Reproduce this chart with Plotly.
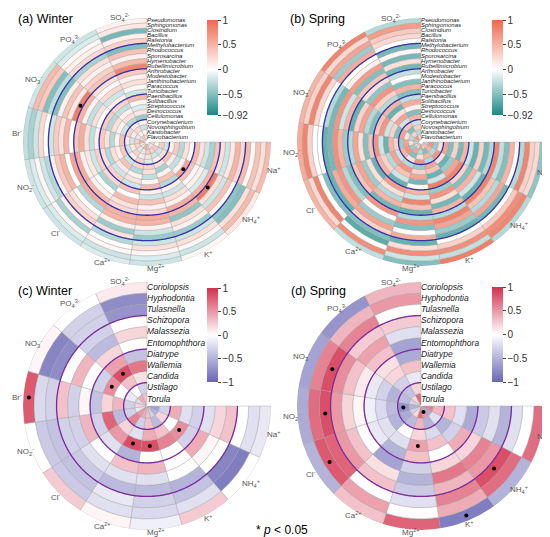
import numpy as np
import plotly.graph_objects as go

# ion sectors, clockwise from the east
ions_11 = ['Na<sup>+</sup>', 'NH<sub>4</sub><sup>+</sup>', 'K<sup>+</sup>', 'Mg<sup>2+</sup>',
           'Ca<sup>2+</sup>', 'Cl<sup>-</sup>', 'NO<sub>2</sub><sup>-</sup>', 'Br<sup>-</sup>',
           'NO<sub>3</sub><sup>-</sup>', 'PO<sub>4</sub><sup>3-</sup>', 'SO<sub>4</sub><sup>2-</sup>']
ions_10 = [s for s in ions_11 if not s.startswith('Br')]

# genera, outer ring -> inner ring
bacteria = ['Pseudomonas', 'Sphingomonas', 'Clostridium', 'Bacillus', 'Ralstonia',
            'Methylobacterium', 'Rhodococcus', 'Sporosarcina', 'Hymenobacter',
            'Rubellimicrobium', 'Arthrobacter', 'Modestobacter', 'Janthinobacterium',
            'Paracoccus', 'Turicibacter', 'Paenibacillus', 'Solibacillus', 'Streptococcus',
            'Deinococcus', 'Cellulomonas', 'Corynebacterium', 'Novosphingobium',
            'Kaistobacter', 'Flavobacterium']
fungi = ['Coriolopsis', 'Hyphodontia', 'Tulasnella', 'Schizopora', 'Malassezia',
         'Entomophthora', 'Diatrype', 'Wallemia', 'Candida', 'Ustilago', 'Torula']

# correlation coefficients: one row per ion, one value per genus
winter_bac = [
    [0.45, 0.2, 0.4, 0.05, 0.45, 0.25, 0.5, 0.15, -0.2, 0.2, 0.4, -0.35, -0.2, 0.2, 0.45, 0.05, 0.2, -0.3, 0.35, 0.1, -0.2, 0.35, 0.1, 0.25],
    [0.15, 0.45, 0.2, -0.5, -0.45, 0.05, 0.4, -0.2, 0.2, 0.85, 0.5, -0.15, 0.1, 0.05, 0.4, 0.6, 0.1, -0.25, 0.15, 0.4, 0.2, -0.2, 0.35, 0.1],
    [0.05, -0.2, 0.05, 0.2, -0.2, -0.4, 0.1, 0.2, -0.45, 0.5, 0.55, 0.1, 0.2, -0.2, 0.1, -0.3, 0.4, 0.1, -0.35, 0.2, 0.1, -0.2, 0.3, 0.15],
    [-0.2, -0.15, 0.05, 0.2, -0.2, -0.4, -0.2, 0.1, 0.5, 0.55, 0.25, 0.1, 0.4, -0.2, 0.1, 0.45, 0.05, -0.25, 0.2, 0.3, -0.15, 0.2, 0.35, 0.4],
    [-0.15, -0.2, 0.05, 0.0, -0.3, 0.2, -0.4, 0.1, 0.5, 0.5, 0.25, 0.2, 0.45, 0.0, 0.4, -0.2, 0.2, 0.1, -0.3, 0.25, 0.3, -0.1, 0.2, 0.5],
    [-0.2, -0.15, 0.05, -0.35, 0.1, 0.3, 0.2, 0.0, -0.3, 0.55, 0.45, 0.1, 0.0, -0.35, 0.25, 0.3, -0.2, 0.15, 0.4, -0.2, 0.1, 0.3, -0.15, 0.2],
    [-0.2, -0.15, 0.05, -0.2, -0.3, 0.1, 0.35, 0.5, 0.0, 0.6, 0.55, 0.1, 0.15, -0.2, 0.3, 0.2, -0.3, 0.2, 0.1, 0.35, -0.2, 0.15, 0.3, -0.1],
    [-0.25, -0.35, -0.2, 0.25, 0.0, -0.2, 0.35, 0.2, 0.5, 0.0, 0.4, 0.55, 0.2, -0.25, 0.1, 0.35, 0.2, -0.3, 0.1, 0.4, 0.15, -0.2, 0.3, 0.5],
    [-0.2, 0.45, 0.35, -0.5, -0.25, -0.5, 0.1, 0.4, 0.15, 0.85, 0.5, 0.1, -0.25, 0.2, 0.0, 0.35, -0.3, 0.2, 0.1, -0.2, 0.3, 0.15, -0.15, 0.2],
    [-0.2, -0.15, 0.05, 0.1, 0.25, -0.35, 0.2, 0.1, 0.3, 0.4, 0.2, 0.05, 0.25, -0.2, 0.1, 0.3, -0.25, 0.1, 0.2, -0.3, 0.15, 0.25, 0.1, 0.35],
    [0.1, 0.15, -0.55, 0.1, 0.3, -0.5, 0.4, 0.1, 0.45, 0.8, 0.35, 0.1, 0.2, 0.05, -0.2, 0.45, 0.05, -0.15, 0.15, -0.4, 0.1, -0.2, 0.05, 0.2],
]
spring_bac = [
    [-0.45, 0.25, 0.3, 0.8, -0.3, 0.05, 0.5, -0.5, -0.25, 0.8, -0.3, -0.55, 0.3, -0.6, -0.2, 0.5, -0.55, 0.3, -0.5, 0.6, 0.2, -0.4, 0.7, -0.3],
    [-0.3, 0.8, 0.75, 0.35, 0.0, -0.55, 0.6, -0.3, 0.4, 0.8, -0.6, -0.2, 0.5, -0.5, 0.3, 0.8, 0.6, -0.4, -0.6, 0.2, 0.7, -0.3, 0.5, 0.4],
    [0.85, -0.25, 0.75, 0.3, 0.0, -0.6, -0.4, 0.6, 0.8, -0.3, 0.5, -0.55, 0.2, 0.7, -0.4, 0.85, -0.2, -0.6, 0.4, 0.6, -0.3, 0.5, -0.5, 0.3],
    [-0.5, -0.2, 0.75, 0.2, -0.6, 0.55, 0.0, -0.5, 0.7, -0.3, -0.6, 0.4, 0.8, -0.2, 0.5, 0.0, -0.55, 0.6, 0.3, -0.4, 0.7, 0.2, -0.3, 0.6],
    [-0.25, 0.75, 0.0, -0.65, -0.5, 0.3, 0.6, -0.4, 0.0, 0.7, -0.55, 0.5, -0.3, 0.2, 0.65, -0.6, -0.2, 0.4, 0.7, -0.3, 0.2, -0.5, 0.6, -0.2],
    [0.5, 0.25, 0.8, 0.0, -0.5, -0.6, 0.55, 0.7, -0.3, -0.5, 0.4, 0.6, -0.4, 0.2, -0.6, 0.5, 0.3, -0.3, 0.6, -0.2, 0.5, 0.7, -0.4, 0.3],
    [0.55, 0.8, 0.3, 0.0, 0.0, -0.6, -0.55, 0.75, 0.5, -0.4, -0.3, 0.6, 0.2, -0.5, 0.4, 0.7, -0.2, -0.6, 0.5, 0.3, -0.4, 0.6, 0.2, -0.3],
    [0.5, 0.3, 0.8, 0.25, 0.0, -0.3, -0.55, 0.7, -0.2, 0.5, -0.6, 0.3, 0.6, -0.3, -0.5, 0.4, 0.7, -0.2, 0.3, -0.5, 0.6, 0.2, -0.3, 0.5],
    [0.8, 0.25, 0.6, -0.4, 0.55, 0.0, 0.1, 0.65, -0.5, 0.4, 0.2, -0.45, 0.7, 0.3, -0.3, 0.5, -0.6, 0.2, 0.6, -0.2, 0.4, -0.5, 0.3, 0.7],
    [-0.3, 0.65, 0.35, 0.25, 0.0, -0.55, 0.05, -0.55, 0.2, -0.55, -0.25, 0.0, -0.5, 0.5, -0.5, -0.25, 0.55, 0.1, -0.5, 0.5, -0.2, 0.3, -0.3, 0.2],
]
winter_fun = [
    [-0.15, -0.2, 0.0, 0.3, 0.2, -0.2, -0.3, -0.2, 0.4, -0.3, -0.6],
    [0.0, -0.85, -0.8, 0.0, 0.05, 0.4, -0.3, 0.55, 0.0, 0.2, -0.5],
    [0.25, -0.2, -0.4, -0.5, 0.0, 0.0, 0.0, 0.6, 0.3, -0.45, -0.3],
    [-0.1, -0.25, -0.3, -0.45, -0.2, 0.35, 0.0, 0.85, 0.4, 0.3, 0.3],
    [0.05, -0.2, -0.15, -0.45, -0.2, 0.3, -0.5, 0.85, -0.2, -0.3, 0.4],
    [0.25, -0.35, -0.4, -0.35, -0.2, 0.0, -0.2, 0.5, 0.2, 0.6, 0.5],
    [0.0, -0.35, -0.4, -0.3, -0.3, 0.35, -0.3, 0.75, -0.45, -0.3, -0.15],
    [0.8, -0.25, -0.3, 0.3, -0.3, 0.05, -0.4, 0.2, 0.35, -0.3, 0.2],
    [0.05, -0.8, -0.75, 0.0, 0.35, 0.0, -0.3, 0.55, 0.0, -0.15, -0.25],
    [0.0, -0.3, -0.3, -0.3, -0.45, 0.2, 0.45, 0.85, 0.3, 0.0, 0.4],
    [0.1, -0.75, -0.7, 0.0, 0.2, 0.0, -0.4, 0.65, 0.15, -0.3, 0.3],
]
spring_fun = [
    [0.7, 0.0, -0.2, -0.5, -0.2, -0.35, -0.55, -0.2, 0.3, 0.35, 0.6],
    [-0.5, 0.7, 0.85, 0.5, 0.6, 0.2, 0.4, -0.3, -0.5, -0.2, -0.55],
    [-0.85, 0.4, 0.6, 0.35, 0.65, 0.2, 0.0, 0.3, -0.25, -0.5, 0.5],
    [0.75, 0.0, -0.2, -0.35, -0.5, -0.3, 0.3, 0.45, 0.2, 0.35, 0.7],
    [0.3, 0.45, 0.0, 0.3, 0.15, -0.6, -0.5, -0.2, 0.0, -0.45, 0.2],
    [-0.5, 0.8, 0.75, 0.5, 0.3, 0.0, -0.15, -0.2, -0.5, -0.55, -0.3],
    [-0.55, 0.7, 0.85, 0.5, 0.2, 0.05, -0.1, -0.25, -0.45, -0.7, -0.5],
    [-0.6, 0.6, 0.85, 0.55, 0.3, 0.1, -0.15, -0.3, -0.5, -0.45, -0.3],
    [-0.7, 0.35, 0.6, 0.25, 0.45, 0.3, 0.15, 0.2, -0.3, -0.4, 0.2],
    [0.35, 0.5, 0.0, 0.25, -0.2, -0.6, -0.55, 0.3, -0.15, 0.2, 0.7],
]

# significant cells (p < 0.05): (ion index, genus index)
sig_winter_bac = [(8, 9), (1, 9), (1, 15)]
sig_spring_bac = []
sig_winter_fun = [(7, 0), (8, 7), (9, 7), (4, 7), (3, 7), (1, 7)]
sig_spring_fun = [(7, 2), (6, 2), (5, 1), (6, 9), (2, 10), (3, 7), (1, 2), (2, 0)]

W, H = 550, 537
R = 124          # outer radius of the rings, px


def px(x):
    return x / W


def py(y):
    return 1 - y / H


bac_scale = [[0, '#1a8988'], [0.92 / 1.92, '#ffffff'], [1, '#ee684c']]
fun_scale = [[0, '#6966b5'], [0.5, '#ffffff'], [1, '#d42f4c']]

fig = go.Figure()


def add_panel(k, vals, ions, genera, sig, hole, groups, line_col, label_size, center):
    polar = 'polar' if k == 1 else 'polar%d' % k
    cax = 'coloraxis' if k == 1 else 'coloraxis%d' % k
    n_ion, n_gen = len(ions), len(genera)
    w = (R - hole) / n_gen
    sw = 270 / n_ion
    theta, base, color = [], [], []
    for i, row in enumerate(vals):
        for j, v in enumerate(row):
            theta.append((i + 0.5) * sw)
            base.append(R - (j + 1) * w)
            color.append(v)
    fig.add_trace(go.Barpolar(
        theta=theta, r=[w] * len(theta), base=base, width=sw,
        marker=dict(color=color, coloraxis=cax, line=dict(color='#a0a0a0', width=0.4)),
        subplot=polar, showlegend=False, hoverinfo='skip'))
    arc = np.linspace(0, 270, 271)
    for g in groups:
        fig.add_trace(go.Scatterpolar(
            theta=arc, r=[R - g * w] * len(arc), mode='lines',
            line=dict(color=line_col, width=1.3), subplot=polar,
            showlegend=False, hoverinfo='skip'))
    if sig:
        fig.add_trace(go.Scatterpolar(
            theta=[(i + 0.5) * sw for i, j in sig], r=[R - (j + 0.5) * w for i, j in sig],
            mode='markers', marker=dict(color='black', size=4), subplot=polar,
            showlegend=False, hoverinfo='skip'))
    # genus names along the north edge
    fig.add_trace(go.Scatterpolar(
        theta=[270] * n_gen, r=[R - (j + 0.5) * w for j in range(n_gen)],
        mode='text', text=['<i>%s</i>' % g for g in genera], textposition='middle right',
        textfont=dict(size=label_size, color='#222'), cliponaxis=False,
        subplot=polar, showlegend=False, hoverinfo='skip'))
    cx, cy = center
    # ion names just outside the rim
    for i, name in enumerate(ions):
        t = np.radians((i + 0.5) * sw)
        rl = R + 2.5 + 3.5 * abs(np.cos(t))
        lx, ly = cx + rl * np.cos(t), cy + rl * np.sin(t)
        anchor = 'center'
        if lx + 8 > W - 4:          # keep the label inside the window
            lx, anchor = W - 5, 'right'
        fig.add_annotation(text=name, x=px(lx), y=py(ly),
                           xref='paper', yref='paper', xanchor=anchor, yanchor='middle',
                           showarrow=False, font=dict(size=8, color='#555'))
    fig.update_layout(**{polar: dict(
        domain=dict(x=[px(cx - R), px(cx + R)], y=[py(cy + R), py(cy - R)]),
        bgcolor='rgba(0,0,0,0)', barmode='overlay',
        radialaxis=dict(visible=False, range=[0, R]),
        angularaxis=dict(rotation=0, direction='clockwise', showgrid=False, showline=False,
                         ticks='', showticklabels=False),
    )})


add_panel(1, winter_bac, ions_11, bacteria, sig_winter_bac, 2.2, [5, 10, 15, 20], '#3434a8', 6, (139, 134))
add_panel(2, spring_bac, ions_10, bacteria, sig_spring_bac, 2.2, [5, 10, 15, 20], '#3434a8', 6, (413, 134))
add_panel(3, winter_fun, ions_11, fungi, sig_winter_fun, 1.0, [3, 6, 9], '#7a2c9c', 8.5, (139, 398))
add_panel(4, spring_fun, ions_10, fungi, sig_spring_fun, 1.0, [3, 6, 9], '#7a2c9c', 8.5, (413, 398))


def cbar(x0, y0, y1, vals, text):
    return dict(x=px(x0), xanchor='left', xpad=0, y=py((y0 + y1) / 2), yanchor='middle',
                ypad=0, len=(y1 - y0) / H, lenmode='fraction', thickness=11,
                tickvals=vals, ticktext=text, ticks='outside', ticklen=3,
                tickfont=dict(size=10, color='#333'), outlinewidth=0)


bac_ticks = [1, 0.5, 0, -0.5, -0.92]
bac_text = ['1', '0.5', '0', '\u22120.5', '\u22120.92']
fun_ticks = [1, 0.5, 0, -0.5, -1]
fun_text = ['1', '0.5', '0', '\u22120.5', '\u22121']

fig.update_layout(
    width=W, height=H, margin=dict(l=0, r=0, t=0, b=0),
    paper_bgcolor='white', plot_bgcolor='white',
    font=dict(family='Liberation Sans, Arial, sans-serif'),
    coloraxis=dict(colorscale=bac_scale, cmin=-0.92, cmax=1, colorbar=cbar(199, 12, 107, bac_ticks, bac_text)),
    coloraxis2=dict(colorscale=bac_scale, cmin=-0.92, cmax=1, colorbar=cbar(484, 12, 107, bac_ticks, bac_text)),
    coloraxis3=dict(colorscale=fun_scale, cmin=-1, cmax=1, colorbar=cbar(199, 280, 374, fun_ticks, fun_text)),
    coloraxis4=dict(colorscale=fun_scale, cmin=-1, cmax=1, colorbar=cbar(484, 279, 374, fun_ticks, fun_text)),
)

titles = [('(a) Winter', 8, 11), ('(b) Spring', 280, 11), ('(c) Winter', 8, 283), ('(d) Spring', 281, 283)]
for txt, x, y in titles:
    fig.add_annotation(text=txt, x=px(x), y=py(y), xref='paper', yref='paper',
                       xanchor='left', yanchor='middle', showarrow=False,
                       font=dict(size=12.5, color='black'))
fig.add_annotation(text='* <i>p</i> < 0.05', x=px(274), y=py(522), xref='paper', yref='paper',
                   xanchor='center', yanchor='middle', showarrow=False,
                   font=dict(size=12, color='black'))

fig.write_html("out.html")
